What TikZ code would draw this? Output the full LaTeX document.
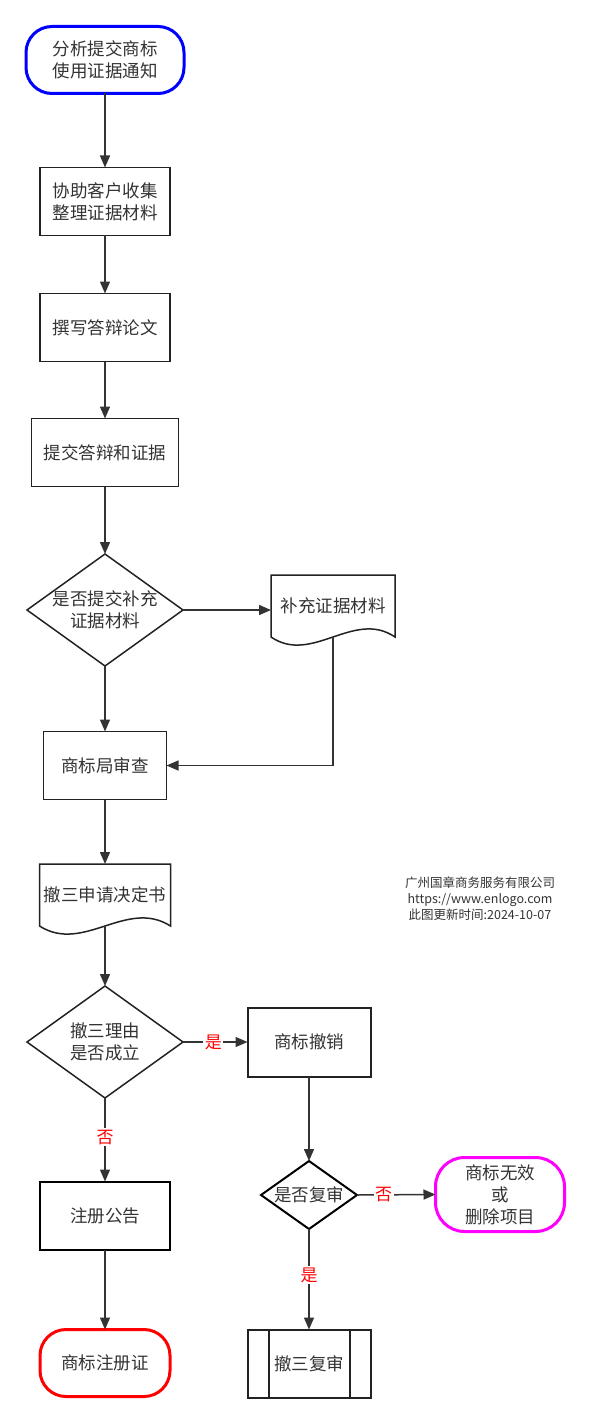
\documentclass[tikz,border=0pt]{standalone}
\usepackage{fontspec}
\newfontfamily\cjk{Noto Sans CJK SC}
\usetikzlibrary{arrows.meta,calc}
\definecolor{txt}{HTML}{333333}
\definecolor{boxc}{HTML}{222222}
\definecolor{linec}{HTML}{333333}
\definecolor{tblue}{HTML}{0000FF}
\definecolor{tred}{HTML}{FF0000}
\definecolor{tmag}{HTML}{FF00FF}
\begin{document}
\begin{tikzpicture}[x=1pt,y=-1pt,
  base/.style={font=\cjk\fontsize{17.5}{22}\selectfont, text=txt, align=center, inner sep=0pt, outer sep=0pt},
  proc/.style={base, draw=boxc, line width=1.5pt},
  procb/.style={base, draw=black, line width=2pt},
  term/.style={base, line width=3pt, rounded corners=26pt},
  shapebox/.style={base},
  outline/.style={draw=boxc, line width=1.5pt, line join=miter},
  outlineb/.style={draw=black, line width=2pt, line join=miter},
  conn/.style={draw=linec, line width=1.5pt, -{Triangle[length=12pt,width=10pt]}},
  lbl/.style={font=\cjk\fontsize{17}{20}\selectfont, text=tred, fill=white, inner sep=1.5pt},
  note/.style={font=\cjk\fontsize{12.5}{16}\selectfont, text=txt, align=center, inner sep=0pt}
]
\useasboundingbox (0,0) rectangle (590,1423);

% nodes
\node[term, draw=tblue, minimum width=158, minimum height=67] (start) at (105,60) {分析提交商标\\使用证据通知};
\node[proc, minimum width=130, minimum height=68] (b2) at (105,201.5) {协助客户收集\\整理证据材料};
\node[proc, minimum width=130, minimum height=68] (b3) at (105,327.5) {撰写答辩论文};
\node[proc, minimum width=147, minimum height=68] (b4) at (105,452.5) {提交答辩和证据};
\node[shapebox, minimum width=156, minimum height=112] (d1) at (105,610) {是否提交补充\\证据材料};
\node[shapebox, minimum width=124, minimum height=62] (doc1) at (333,606) {补充证据材料};
\node[proc, minimum width=123, minimum height=68] (b5) at (105,765.5) {商标局审查};
\node[shapebox, minimum width=131, minimum height=62] (doc2) at (105,895) {撤三申请决定书};
\node[shapebox, minimum width=156, minimum height=112] (d2) at (105,1042) {撤三理由\\是否成立};
\node[proc, line width=2pt, minimum width=123, minimum height=69] (b6) at (309,1042) {商标撤销};
\node[shapebox, minimum width=96, minimum height=68] (d3) at (309,1195) {是否复审};
\node[term, draw=tmag, rounded corners=29pt, minimum width=129, minimum height=74] (t3) at (500,1194.5) {商标无效\\或\\删除项目};
\node[procb, minimum width=130, minimum height=68] (b7) at (105,1215.5) {注册公告};
\node[term, draw=tred, minimum width=130, minimum height=67] (t2) at (105,1363) {商标注册证};
\node[proc, line width=2pt, minimum width=123, minimum height=68] (b8) at (309,1363.5) {撤三复审};
\node[note] (wm) at (480,899) {广州国章商务服务有限公司\\https://www.enlogo.com\\此图更新时间:2024-10-07};

% shapes
\draw[outline] (d1.north) -- (d1.east) -- (d1.south) -- (d1.west) -- cycle;
\draw[outline] (d2.north) -- (d2.east) -- (d2.south) -- (d2.west) -- cycle;
\draw[outlineb] (d3.north) -- (d3.east) -- (d3.south) -- (d3.west) -- cycle;
\draw[outline] (doc1.south west) -- (doc1.north west) -- (doc1.north east) -- (doc1.south east)
  .. controls +(-41,-28) and +(41,28) .. (doc1.south west) -- cycle;
\draw[outline] (doc2.south west) -- (doc2.north west) -- (doc2.north east) -- (doc2.south east)
  .. controls +(-44,-28) and +(44,28) .. (doc2.south west) -- cycle;
\draw[draw=boxc, line width=2pt] ($(b8.north west)+(21,0)$) -- ($(b8.south west)+(21,0)$);
\draw[draw=boxc, line width=2pt] ($(b8.north east)+(-21,0)$) -- ($(b8.south east)+(-21,0)$);

% connectors
\draw[conn] (start.south) -- (b2.north);
\draw[conn] (b2.south) -- (b3.north);
\draw[conn] (b3.south) -- (b4.north);
\draw[conn] (b4.south) -- (d1.north);
\draw[conn] (d1.east) -- (d1.east -| doc1.west);
\draw[conn] (doc1.south) |- (b5.east);
\draw[conn] (d1.south) -- (b5.north);
\draw[conn] (b5.south) -- (doc2.north);
\draw[conn] (doc2.south) -- (d2.north);
\draw[conn] (d2.east) -- node[lbl, pos=0.47] {是} (b6.west);
\draw[conn] (d2.south) -- node[lbl, pos=0.47] {否} (b7.north);
\draw[conn] (b6.south) -- (d3.north);
\draw[conn] (d3.east) -- node[lbl, pos=0.34] {否} (t3.west);
\draw[conn] (d3.south) -- node[lbl, pos=0.46] {是} (b8.north);
\draw[conn] (b7.south) -- (t2.north);
\end{tikzpicture}
\end{document}
